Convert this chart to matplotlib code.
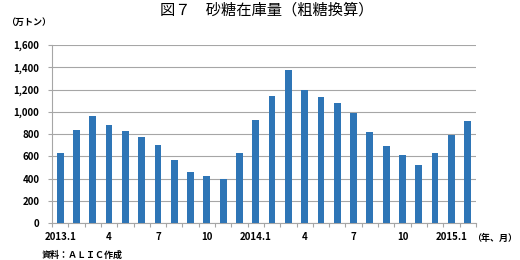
import matplotlib
matplotlib.use("Agg")
import matplotlib.pyplot as plt
import numpy as np

plt.rcParams['font.family'] = ['Noto Sans CJK JP', 'DejaVu Sans']

months = ["2013.1", "", "", "4", "", "", "7", "", "", "10", "", "",
          "2014.1", "", "", "4", "", "", "7", "", "", "10", "", "",
          "2015.1", ""]
values = [628, 834, 963, 879, 828, 774, 706, 568, 463, 424, 397, 634,
          930, 1145, 1375, 1199, 1130, 1079, 987, 819, 691, 616, 526, 628,
          795, 921]
yticks = [0, 200, 400, 600, 800, 1000, 1200, 1400, 1600]

fig = plt.figure(figsize=(5.2, 2.6), dpi=100)
ax = fig.add_axes([0.1, 0.141, 0.815, 0.686])
x = np.arange(len(values))
ax.bar(x, values, width=0.42, color='#2E75B6', zorder=3)
ax.set_xlim(-0.5, len(values) - 0.5)
ax.set_ylim(0, 1600)
ax.set_yticks(yticks)
ax.set_yticklabels([f"{v:,}" for v in yticks], fontsize=7, fontweight='bold')
ax.yaxis.grid(True, color='#A6A6A6', linewidth=0.8, zorder=0)
ax.set_xticks(np.arange(-0.5, len(values) + 0.5, 1))
ax.set_xticklabels([])
ax.set_xticks(x, minor=True)
ax.set_xticklabels(months, minor=True, fontsize=7, fontweight='bold')
ax.tick_params(axis='x', which='minor', length=0, pad=6)
ax.tick_params(axis='x', which='major', length=3, color='#A6A6A6', direction='out')
ax.tick_params(axis='y', length=3, color='#A6A6A6', pad=6)
for s in ['top', 'right']:
    ax.spines[s].set_visible(False)
for s in ['left', 'bottom']:
    ax.spines[s].set_color('#A6A6A6')
    ax.spines[s].set_linewidth(0.8)

fig.text(0.513, 0.962, "図７　砂糖在庫量（粗糖換算）", ha='center', va='center', fontsize=11)
fig.text(0.012, 0.915, "（万トン）", ha='left', va='center', fontsize=6.5, fontweight='bold')
fig.text(0.908, 0.083, "（年、月）", ha='left', va='center', fontsize=6.5, fontweight='bold')
fig.text(0.08, 0.02, "資料：ＡＬＩＣ作成", ha='left', va='center', fontsize=6.5, fontweight='bold')

fig.savefig("out.png", dpi=100)
